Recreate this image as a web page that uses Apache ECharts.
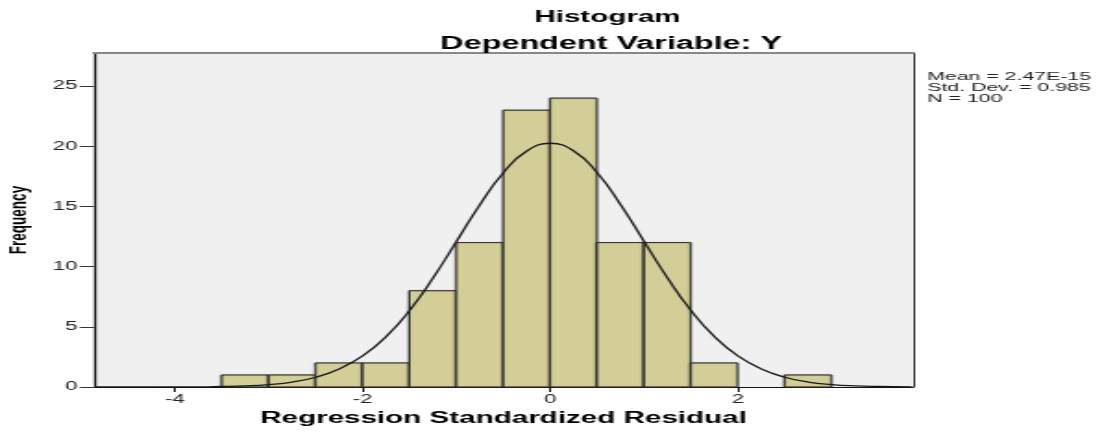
<!DOCTYPE html>
<html><head><meta charset="utf-8">
<script src="https://cdn.jsdelivr.net/npm/echarts@6/dist/echarts.min.js"></script>
<style>
html,body{margin:0;padding:0;background:#fff;overflow:hidden;}
#wrap{width:1102px;height:435px;overflow:hidden;}
#chart{width:596px;height:435px;transform:scaleX(1.849);transform-origin:0 0;}
</style></head><body><div id="wrap"><div id="chart"></div></div>
<script>
// Histogram bins (lower edges) and counts
const binStarts = [-3.5, -3, -2.5, -2, -1.5, -1, -0.5, 0, 0.5, 1, 1.5, 2.5];
const frequencies = [1, 1, 2, 2, 8, 12, 23, 24, 12, 12, 2, 1];
const binWidth = 0.5;
// Normal curve
const curveX = [-4.86,-4.5,-4.25,-4,-3.75,-3.5,-3.25,-3,-2.75,-2.5,-2.25,-2,-1.75,-1.5,-1.25,-1,-0.75,-0.5,-0.25,0,0.25,0.5,0.75,1,1.25,1.5,1.75,2,2.25,2.5,2.75,3,3.25,3.5,3.86];
const curveY = [0,0,0,0.01,0.01,0.04,0.09,0.2,0.41,0.81,1.49,2.58,4.18,6.35,9.05,12.09,15.15,17.8,19.61,20.25,19.61,17.8,15.15,12.09,9.05,6.35,4.18,2.58,1.49,0.81,0.41,0.2,0.09,0.04,0.01];
const xTicks = [-4, -2, 0, 2];
const yTicks = [0, 5, 10, 15, 20, 25];
const statsLines = ['Mean = 2.47E-15', 'Std. Dev. = 0.985', 'N = 100'];

const FONT = '"Liberation Sans", Arial, sans-serif';
const X_MIN = -4.864, X_MAX = 3.867, Y_MAX = 27.75;

const chart = echarts.init(document.getElementById('chart'));
chart.setOption({
  animation: false,
  backgroundColor: '#ffffff',
  title: [
    { text: 'Histogram', left: 323.5, top: 4.5, textAlign: 'center',
      textStyle: { fontSize: 16, fontWeight: 'bold', color: '#000', fontFamily: FONT } },
    { text: 'Dependent Variable: Y', left: 325.5, top: 30, textAlign: 'center',
      textStyle: { fontSize: 17.5, fontWeight: 'bold', color: '#000', fontFamily: FONT } }
  ],
  grid: { left: 50.8, right: 102.2, top: 53, bottom: 48, show: true,
          backgroundColor: '#f0f0f0', borderWidth: 0, outerBoundsMode: 'none' },
  xAxis: [
    { type: 'value', min: X_MIN, max: X_MAX, position: 'bottom',
      axisLine: { show: true, onZero: false, lineStyle: { color: '#111', width: 1 } },
      axisTick: { show: true, length: 5, customValues: xTicks, lineStyle: { color: '#111' } },
      axisLabel: { customValues: xTicks, color: '#222', fontSize: 12, fontFamily: FONT, margin: 7 },
      splitLine: { show: false },
      name: 'Regression Standardized Residual', nameLocation: 'middle', nameGap: 24,
      nameTextStyle: { fontSize: 16, fontWeight: 'bold', color: '#000', fontFamily: FONT } },
    { type: 'value', min: X_MIN, max: X_MAX, position: 'top',
      axisLine: { show: true, onZero: false, lineStyle: { color: '#888', width: 2 } },
      axisTick: { show: false }, axisLabel: { show: false }, splitLine: { show: false } }
  ],
  yAxis: [
    { type: 'value', min: 0, max: Y_MAX, position: 'left',
      axisLine: { show: true, onZero: false, lineStyle: { color: '#111', width: 1.3 } },
      axisTick: { show: true, length: 7.6, customValues: yTicks, lineStyle: { color: '#333' } },
      axisLabel: { customValues: yTicks, color: '#222', fontSize: 12, fontFamily: FONT, margin: 9 },
      splitLine: { show: false },
      name: 'Frequency', nameLocation: 'middle', nameRotate: 90, nameGap: 32.5,
      nameTextStyle: { fontSize: 13.5, fontWeight: 'bold', color: '#000', fontFamily: FONT } },
    { type: 'value', min: 0, max: Y_MAX, position: 'right',
      axisLine: { show: true, onZero: false, lineStyle: { color: '#333', width: 1 } },
      axisTick: { show: false }, axisLabel: { show: false }, splitLine: { show: false } }
  ],
  graphic: [
    { type: 'text', left: 501.5, top: 71,
      style: { text: statsLines.join('\n'), fontSize: 11.5, fontFamily: FONT, fill: '#222', lineHeight: 11 } }
  ],
  series: [
    { type: 'custom', xAxisIndex: 0, yAxisIndex: 0,
      data: binStarts.map((s, i) => [s, s + binWidth, frequencies[i]]),
      encode: { x: [0, 1], y: 2 },
      renderItem: function (params, api) {
        const p0 = api.coord([api.value(0), api.value(2)]);
        const p1 = api.coord([api.value(1), 0]);
        return { type: 'rect',
          shape: { x: p0[0], y: p0[1], width: p1[0] - p0[0], height: p1[1] - p0[1] },
          style: { fill: '#d3ce97', stroke: '#333', lineWidth: 1,
                   shadowColor: 'rgba(0,0,0,0.35)', shadowBlur: 1, shadowOffsetX: -0.6 } };
      }, z: 2 },
    { type: 'line', xAxisIndex: 0, yAxisIndex: 0,
      data: curveX.map((x, i) => [x, curveY[i]]),
      smooth: true, showSymbol: false, symbol: 'none',
      lineStyle: { color: '#1a1a1a', width: 1.3 }, z: 3 }
  ]
});
</script></body></html>
